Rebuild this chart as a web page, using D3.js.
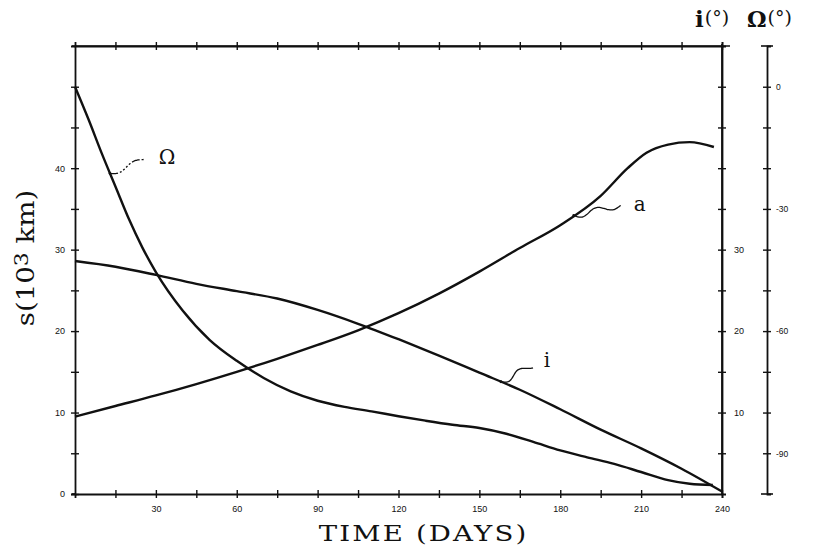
<!DOCTYPE html>
<html><head><meta charset="utf-8">
<script src="https://cdn.jsdelivr.net/npm/d3@7"></script>
<style>body{margin:0;background:#fff}svg{display:block}</style></head>
<body><svg id="c" width="820" height="552"></svg>
<script>
// ---------- data ----------
const xTicks = d3.range(15, 241, 15);
const xLabels = [30, 60, 90, 120, 150, 180, 210, 240];
const sTicks = d3.range(0, 55, 5);
const sLabels = [0, 10, 20, 30, 40];
const iTicks = d3.range(5, 55, 5);
const iLabels = [10, 20, 30];
const omegaTicks = d3.range(-90, 1, 10);
const omegaLabels = [0, -30, -60, -90];

const aDays = [0, 15, 30, 45, 60, 75, 90, 105, 120, 135, 150, 165, 180, 195, 205, 212, 220, 228, 237];
const aVals = [9.5, 10.8, 12.1, 13.5, 15.0, 16.6, 18.3, 20.1, 22.2, 24.6, 27.3, 30.2, 33.0, 36.6, 40.0, 41.9, 42.9, 43.2, 42.6];

const iDays = [0, 15, 30, 45, 60, 75, 90, 105, 120, 135, 150, 165, 180, 195, 210, 225, 240];
const iVals = [28.6, 27.9, 26.9, 25.8, 24.9, 24.0, 22.6, 20.9, 19.0, 17.0, 14.9, 12.8, 10.4, 7.9, 5.6, 3.1, 0.3];

const omegaDays = [0, 5, 10, 15, 20, 25, 30, 40, 50, 60, 70, 80, 90, 100, 110, 120, 130, 140, 150, 160, 170, 180, 190, 200, 210, 220, 228, 236.6];
const omegaVals = [0, -8, -16.5, -24.5, -32.5, -39.5, -45.5, -55, -62.2, -67.3, -71.5, -74.8, -77.1, -78.6, -79.7, -80.9, -82.0, -83.0, -83.8, -85.2, -87.2, -89.3, -91.0, -92.6, -94.6, -96.6, -97.5, -97.8];

// ---------- layout ----------
const L = 75, R = 722, T = 46, B = 494, OX = 767;
const ink = "#111";
const svg = d3.select("#c");
const x = d3.scaleLinear([0, 240], [L, R]);
const yS = d3.scaleLinear([0, 55], [B, T]);
const yI = d3.scaleLinear([0, 55], [B, T]);
const yO = d3.scaleLinear([-100, 10], [B, T]);

const tickFont = "'Liberation Sans', Arial, sans-serif";
function styleAxis(g, dir) {
  g.select(".domain").attr("stroke", ink).attr("stroke-width", 1.8);
  g.selectAll(".tick line").attr("stroke", ink).attr("stroke-width", 1.4);
  if (dir === "h") g.selectAll(".tick line").attr("y1", -4).attr("y2", 4);
  else g.selectAll(".tick line").attr("x1", -4).attr("x2", 4);
  g.selectAll(".tick text").attr("font-family", tickFont).attr("font-size", 9).attr("fill", ink);
}

// bottom axis
svg.append("g").attr("transform", `translate(0,${B})`)
  .call(d3.axisBottom(x).tickValues(xTicks).tickSizeOuter(0).tickSize(4).tickPadding(8)
    .tickFormat(d => xLabels.includes(d) ? d : ""))
  .call(g => styleAxis(g, "h"));
// top axis
svg.append("g").attr("transform", `translate(0,${T})`)
  .call(d3.axisTop(x).tickValues(xTicks).tickSizeOuter(0).tickSize(4).tickFormat(""))
  .call(g => styleAxis(g, "h"));
// left s axis
svg.append("g").attr("transform", `translate(${L},0)`)
  .call(d3.axisLeft(yS).tickValues(sTicks).tickSizeOuter(0).tickSize(4).tickPadding(6)
    .tickFormat(d => sLabels.includes(d) ? d : ""))
  .call(g => styleAxis(g, "v"));
// right i axis
svg.append("g").attr("transform", `translate(${R},0)`)
  .call(d3.axisRight(yI).tickValues(iTicks).tickSizeOuter(0).tickSize(4).tickPadding(8)
    .tickFormat(d => iLabels.includes(d) ? d : ""))
  .call(g => styleAxis(g, "v"));
// frame extensions
svg.append("line").attr("x1", L - 3).attr("x2", R + 8).attr("y1", T).attr("y2", T).attr("stroke", ink).attr("stroke-width", 1.6);
svg.append("line").attr("x1", L - 3).attr("x2", L).attr("y1", B).attr("y2", B).attr("stroke", ink).attr("stroke-width", 1.6);
svg.append("line").attr("x1", R).attr("x2", R).attr("y1", T - 2).attr("y2", B).attr("stroke", ink).attr("stroke-width", 1.8);

// Omega axis
const og = svg.append("g").attr("transform", `translate(${OX},0)`)
  .call(d3.axisRight(yO).tickValues(omegaTicks).tickSizeOuter(0).tickSize(4).tickPadding(5)
    .tickFormat(d => omegaLabels.includes(d) ? d : ""))
  .call(g => styleAxis(g, "v"));
og.selectAll(".tick text").attr("font-size", 8.5);
[10, -100].forEach(v => og.append("line").attr("x1", -6).attr("x2", 6)
  .attr("y1", yO(v)).attr("y2", yO(v)).attr("stroke", ink).attr("stroke-width", 1.6));

// ---------- curves ----------
const lineS = d3.line().curve(d3.curveMonotoneX);
function drawCurve(days, vals, ys) {
  svg.append("path").attr("d", lineS(days.map((d, k) => [x(d), ys(vals[k])])))
    .attr("fill", "none").attr("stroke", ink).attr("stroke-width", 2.4).attr("stroke-linejoin", "round");
}
drawCurve(aDays, aVals, yS);
drawCurve(iDays, iVals, yI);
drawCurve(omegaDays, omegaVals, yO);

// ---------- annotations ----------
const interp = (days, vals, d) => d3.scaleLinear(days, vals)(d);
function squiggle(p0, p1, cycles, amp, dash) {
  const dx = p1[0] - p0[0], dy = p1[1] - p0[1], len = Math.hypot(dx, dy);
  const nx = -dy / len, ny = dx / len;
  const pts = d3.range(0, 1.0001, 0.02).map(t => {
    const o = amp * Math.sin(t * cycles * 2 * Math.PI) * (1 - t * 0.3);
    return [p0[0] + dx * t + nx * o, p0[1] + dy * t + ny * o];
  });
  const p = svg.append("path").attr("d", d3.line().curve(d3.curveBasis)(pts))
    .attr("fill", "none").attr("stroke", ink).attr("stroke-width", 1.3);
  if (dash) p.attr("stroke-dasharray", dash);
  svg.append("circle").attr("cx", p0[0]).attr("cy", p0[1]).attr("r", 1.4).attr("fill", ink);
}
const labFont = "'DejaVu Serif', 'Liberation Serif', serif";
// Omega
{
  const d = 13, p0 = [x(d), yO(interp(omegaDays, omegaVals, d))];
  squiggle(p0, [p0[0] + 34, p0[1] - 14], 1, 3, "8,2,2,2,2,2,2,2,2,2");
  svg.append("text").attr("x", p0[0] + 57).attr("y", p0[1] - 9).attr("text-anchor", "middle")
    .attr("font-family", labFont).attr("font-size", 20).attr("fill", ink).text("Ω");
}
// a
{
  const d = 185, p0 = [x(d), yS(interp(aDays, aVals, d))];
  squiggle(p0, [p0[0] + 47, p0[1] - 10], 1.5, 3.5);
  svg.append("text").attr("x", p0[0] + 66).attr("y", p0[1] - 4).attr("text-anchor", "middle")
    .attr("font-family", labFont).attr("font-size", 20).attr("fill", ink).text("a");
}
// i
{
  const d = 158, p0 = [x(d), yI(interp(iDays, iVals, d))];
  squiggle(p0, [p0[0] + 31, p0[1] - 16], 1.2, 3.5);
  svg.append("text").attr("x", p0[0] + 46).attr("y", p0[1] - 15).attr("text-anchor", "middle")
    .attr("font-family", labFont).attr("font-size", 20).attr("fill", ink).text("i");
}

// ---------- titles ----------
svg.append("text").attr("transform", `translate(${(L + R) / 2 + 24},541) scale(1.2,1)`).attr("text-anchor", "middle")
  .attr("font-family", labFont).attr("font-size", 23).attr("fill", ink)
  .attr("textLength", 173).attr("lengthAdjust", "spacing").text("TIME (DAYS)");

const yt = svg.append("text").attr("transform", "translate(34,258) rotate(-90) scale(1.15,1)").attr("text-anchor", "middle")
  .attr("font-family", labFont).attr("font-size", 24).attr("fill", ink);
yt.append("tspan").text("s(10");
yt.append("tspan").attr("dy", -6).attr("font-size", 19).text("3");
yt.append("tspan").attr("dy", 6).text(" km)");

const it = svg.append("text").attr("x", 695).attr("y", 27).attr("font-family", labFont).attr("fill", ink);
it.append("tspan").attr("font-size", 23).attr("font-weight", "bold").text("i");
it.append("tspan").attr("font-size", 19).attr("dx", 1).attr("dy", -3).text("(°)");
const ot = svg.append("text").attr("x", 747).attr("y", 27).attr("font-family", labFont).attr("fill", ink);
ot.append("tspan").attr("font-size", 22).attr("font-weight", "bold").text("Ω");
ot.append("tspan").attr("font-size", 19).attr("dx", 1).attr("dy", -3).text("(°)");
</script>
</body></html>
